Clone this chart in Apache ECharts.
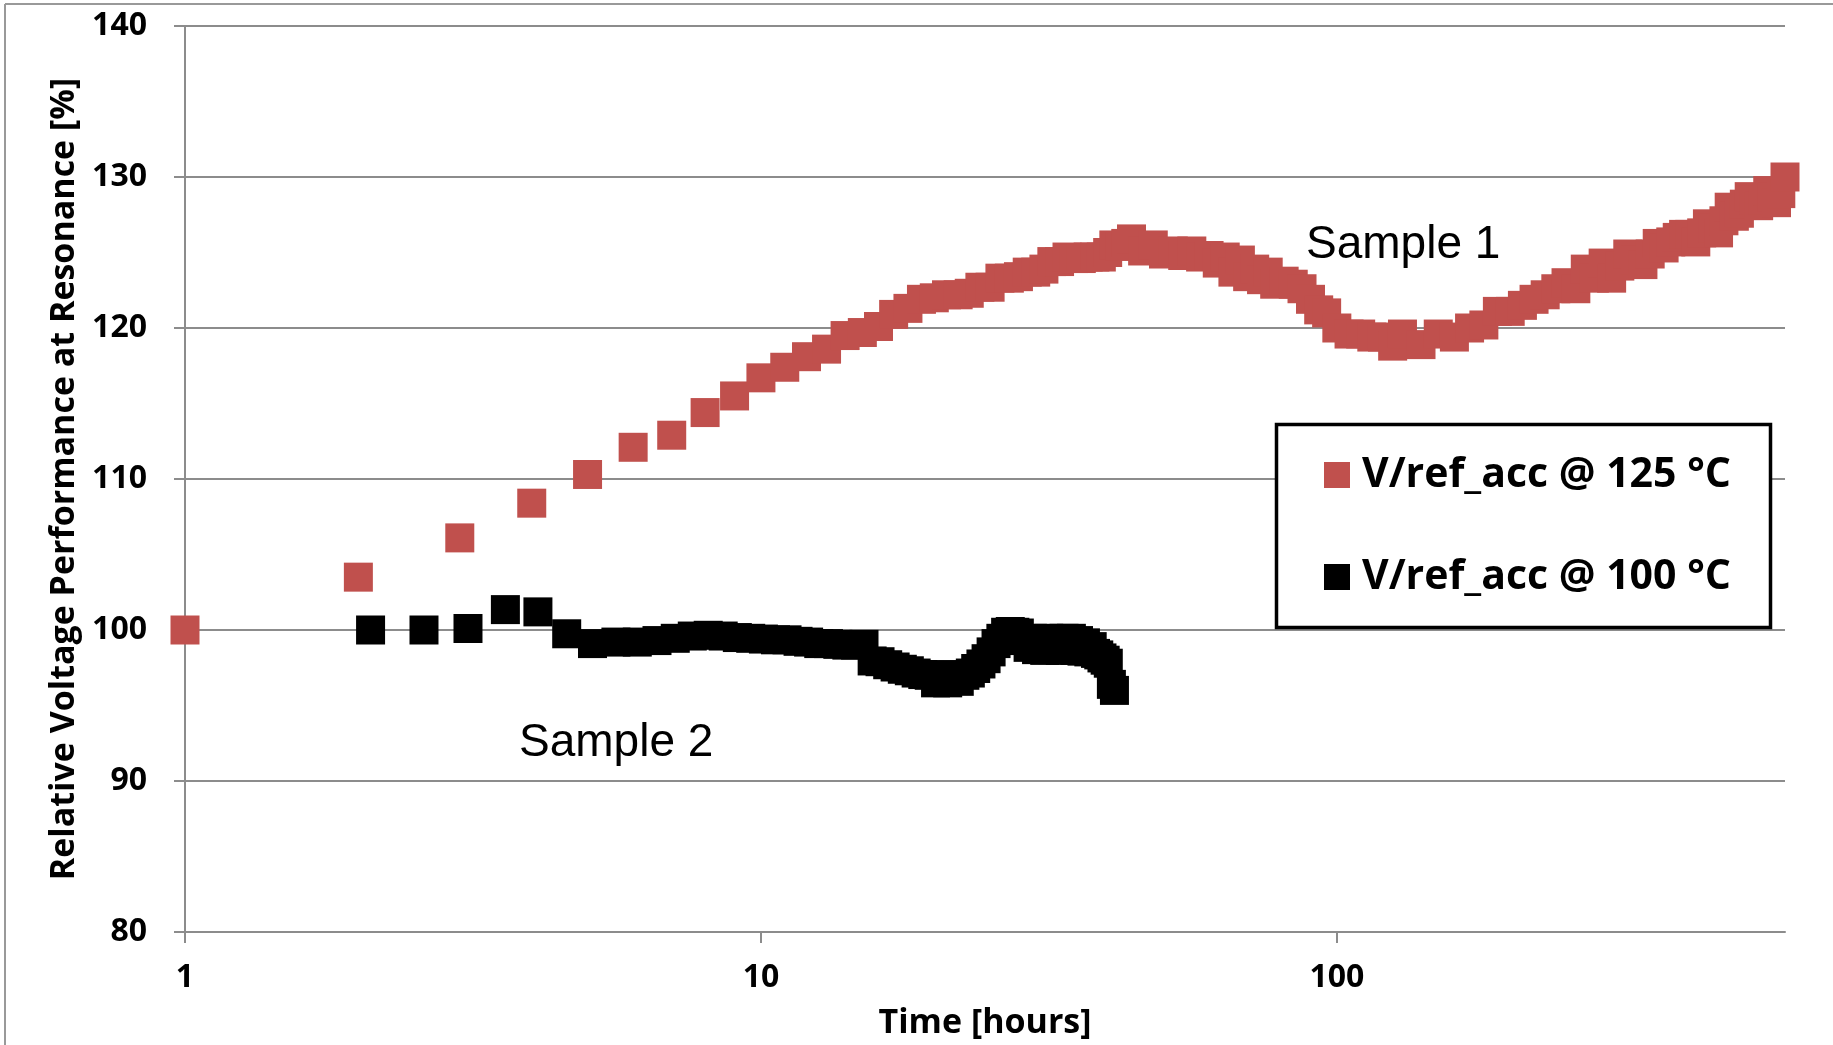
<!DOCTYPE html>
<html>
<head>
<meta charset="utf-8">
<script src="https://cdn.jsdelivr.net/npm/echarts@6/dist/echarts.min.js"></script>
<style>
  html, body { margin: 0; padding: 0; background: #fff; }
  #main { width: 1833px; height: 1045px; }
</style>
</head>
<body>
<div id="main"></div>
<script>
// time in hours (log axis) and relative voltage in %
const redHours = [1, 2, 3, 4, 5, 6, 7, 8, 9, 10,
  11, 12, 13, 14, 15, 16, 17, 18, 19, 20,
  21, 22, 23, 24, 25, 26, 27, 28, 29, 30,
  31, 32, 33, 34, 35, 36, 37, 38, 39, 40,
  41, 42, 43, 44, 46, 48, 50, 52, 54, 56,
  58, 60, 62, 64, 66, 68, 70, 72, 74, 76,
  78, 81, 84, 87, 90, 93, 96, 100, 105, 110,
  115, 120, 125, 130, 140, 150, 160, 170, 180, 190,
  200, 210, 220, 230, 240, 250, 260, 270, 280, 290,
  300, 310, 320, 330, 340, 350, 360, 370, 380, 390,
  400, 410, 420, 430, 440, 450, 460, 470, 480, 490,
  500, 510, 520, 530, 540, 550, 560, 570, 580, 590, 600]
const redValues = [100.0, 103.5, 106.1, 108.4, 110.3, 112.1, 112.9, 114.4, 115.5, 116.7,
  117.4, 118.1, 118.6, 119.5, 119.7, 120.1, 120.9, 121.3, 121.9, 122.0,
  122.2, 122.2, 122.3, 122.7, 122.7, 123.3, 123.3, 123.4, 123.7, 123.7,
  123.9, 124.4, 124.4, 124.7, 124.6, 124.6, 124.7, 124.7, 124.7, 125.0,
  125.5, 125.4, 125.6, 125.9, 125.1, 125.5, 124.9, 125.1, 124.8, 125.1,
  124.7, 124.8, 124.3, 124.7, 123.7, 124.5, 123.4, 123.9, 123.2, 123.7,
  122.9, 123.1, 122.9, 122.6, 121.9, 121.2, 121.0, 120.0, 119.6, 119.6,
  119.4, 119.4, 118.8, 119.6, 118.9, 119.6, 119.4, 120.0, 120.2, 121.1,
  121.1, 121.5, 121.9, 122.2, 122.6, 123.0, 122.6, 123.9, 123.3, 124.3,
  123.3, 124.1, 124.9, 124.5, 124.2, 124.9, 125.6, 125.3, 125.7, 126.0,
  126.2, 126.2, 125.7, 126.3, 126.9, 126.6, 126.3, 127.1, 128.0, 127.4,
  127.6, 128.2, 128.7, 128.5, 128.1, 128.5, 129.1, 128.7, 128.3, 128.9, 130.0]

const blackHours = [2.1, 2.6, 3.1, 3.6, 4.1, 4.6, 5.1, 5.6, 6.1, 6.6,
  7.1, 7.6, 8.1, 8.6, 9.1, 9.6, 10.1, 10.6, 11.1, 11.6,
  12.1, 12.6, 13.1, 13.6, 14.1, 14.6, 15.1, 15.6, 16.1, 16.6,
  17.1, 17.6, 18.1, 18.6, 19.1, 19.6, 20.1, 20.6, 21.1, 21.6,
  22.1, 22.6, 23.1, 23.6, 24.1, 24.6, 25.1, 25.6, 26.1, 26.6,
  27.1, 27.6, 28.1, 28.6, 29.1, 29.6, 30.1, 30.6, 31.1, 31.6,
  32.1, 32.6, 33.1, 33.6, 34.1, 34.6, 35.1, 35.6, 36.1, 36.6,
  37.1, 37.6, 38.1, 38.6, 39.1, 39.6, 40.1, 40.6, 41.1]
const blackValues = [100.0, 100.0, 100.1, 101.35, 101.2, 99.75, 99.1, 99.2, 99.2, 99.3,
  99.45, 99.6, 99.65, 99.6, 99.5, 99.45, 99.4, 99.35, 99.35, 99.25,
  99.2, 99.1, 99.1, 99.05, 99.0, 99.0, 99.05, 97.95, 97.9, 97.7,
  97.55, 97.4, 97.3, 97.15, 97.05, 97.0, 96.5, 97.05, 96.5, 97.0,
  96.6, 97.0, 97.15, 97.45, 97.75, 98.1, 98.55, 99.1, 99.45, 99.85,
  99.9, 99.85, 99.8, 99.3, 98.85, 99.45, 98.7, 99.3, 98.65, 99.45,
  98.7, 99.35, 98.65, 99.45, 98.7, 99.45, 98.65, 99.3, 98.6, 99.15,
  98.55, 98.9, 98.45, 98.35, 98.15, 98.0, 97.8, 96.4, 96.0]

const xTicks = [1, 10, 100]
const seriesNames = ['V/ref_acc @ 125 °C', 'V/ref_acc @ 100 °C']

const chart = echarts.init(document.getElementById('main'))
const font = '"Open Sans", "Noto Sans", sans-serif'
const gray = '#8c8c8c'

let option = {
  animation: false,
  backgroundColor: '#fff',
  grid: { left: 185, right: 48, top: 26, bottom: 112 },
  xAxis: {
    type: 'log',
    logBase: 10,
    min: 1,
    max: 600,
    name: 'Time [hours]',
    nameLocation: 'middle',
    nameGap: 74,
    nameTextStyle: { color: '#000', fontSize: 34, fontWeight: 'bold', fontFamily: font },
    axisLine: { show: true, lineStyle: { color: gray, width: 2 } },
    axisTick: { show: true, length: 11, customValues: xTicks, lineStyle: { color: gray, width: 2 } },
    axisLabel: {
      customValues: xTicks,
      margin: 30,
      color: '#000', fontSize: 32, fontWeight: 'bold', fontFamily: font,
      formatter: v => String(v)
    },
    splitLine: { show: false }
  },
  yAxis: {
    type: 'value',
    min: 80,
    max: 140,
    interval: 10,
    name: 'Relative Voltage Performance at Resonance [%]',
    nameLocation: 'middle',
    nameGap: 96,
    nameTextStyle: { color: '#000', fontSize: 34, fontWeight: 'bold', fontFamily: font },
    axisLine: { show: true, lineStyle: { color: gray, width: 2 } },
    axisTick: { show: true, length: 11, lineStyle: { color: gray, width: 2 } },
    axisLabel: { margin: 38, color: '#000', fontSize: 32, fontWeight: 'bold', fontFamily: font },
    splitLine: { show: true, lineStyle: { color: gray, width: 2 } }
  },
  legend: {
    orient: 'vertical',
    left: 1324,
    top: 453,
    padding: 0,
    z: 20,
    icon: 'rect',
    itemWidth: 26,
    itemHeight: 26,
    itemGap: 58,
    textStyle: { color: '#000', fontSize: 41, fontWeight: 'bold', fontFamily: font, lineHeight: 44, padding: [0, 0, 0, 7] },
    data: seriesNames
  },
  graphic: [
    // outer chart frame (only left and top edges visible)
    { type: 'line', z: 1, shape: { x1: 5, y1: 4, x2: 1833, y2: 4 }, style: { stroke: '#999', lineWidth: 2 } },
    { type: 'line', z: 1, shape: { x1: 5, y1: 4, x2: 5, y2: 1045 }, style: { stroke: '#999', lineWidth: 2 } },
    // legend frame
    { type: 'rect', z: 10, shape: { x: 1276.5, y: 424.5, width: 494, height: 203 },
      style: { fill: '#fff', stroke: '#000', lineWidth: 3.5 } },
    { type: 'text', z: 10, left: 1306, top: 222,
      style: { text: 'Sample 1', fill: '#000', font: '46px "Liberation Sans", Arial, sans-serif' } },
    { type: 'text', z: 10, left: 519, top: 720,
      style: { text: 'Sample 2', fill: '#000', font: '46px "Liberation Sans", Arial, sans-serif' } }
  ],
  series: [
    {
      name: seriesNames[0],
      type: 'scatter',
      symbol: 'rect',
      symbolSize: 29,
      itemStyle: { color: '#C0504D', opacity: 1 },
      data: redHours.map((h, i) => [h, redValues[i]])
    },
    {
      name: seriesNames[1],
      type: 'scatter',
      symbol: 'rect',
      symbolSize: 29,
      itemStyle: { color: '#000000', opacity: 1 },
      data: blackHours.map((h, i) => [h, blackValues[i]])
    }
  ]
}
chart.setOption(option)
</script>
</body>
</html>
